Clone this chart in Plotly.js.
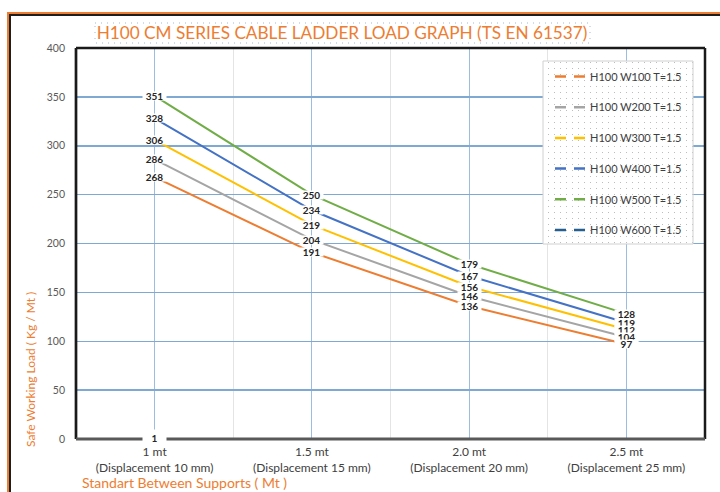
<!DOCTYPE html>
<html><head><meta charset="utf-8">
<script src="https://cdn.plot.ly/plotly-3.0.1.min.js"></script>
<style>
html,body{margin:0;padding:0;background:#fff;}
#chart{position:absolute;left:0;top:0;width:720px;height:492px;}
.fr{position:absolute;pointer-events:none;}
</style></head><body>
<div id="chart"></div>
<div class="fr" style="left:7px;top:12px;width:713px;height:2px;background:#ED7D31"></div>
<div class="fr" style="left:7px;top:12px;width:2px;height:480px;background:#ED7D31"></div>
<div class="fr" style="left:9px;top:14px;width:711px;height:2px;background:#1e1e1e"></div>
<div class="fr" style="left:9px;top:14px;width:2px;height:478px;background:#1e1e1e"></div>
<script>
// ---- data ----
const categories = ['1 mt', '1.5 mt', '2.0 mt', '2.5 mt'];
const displacements = ['(Displacement 10 mm)', '(Displacement 15 mm)', '(Displacement 20 mm)', '(Displacement 25 mm)'];
const seriesNames = ['H100 W100 T=1.5', 'H100 W200 T=1.5', 'H100 W300 T=1.5', 'H100 W400 T=1.5', 'H100 W500 T=1.5', 'H100 W600 T=1.5'];
const w100 = [268, 191, 136, 97];
const w200 = [286, 204, 146, 104];
const w300 = [306, 219, 156, 112];
const w400 = [328, 234, 167, 119];
const w500 = [351, 250, 179, 128];
const w600 = [1, null, null, null];
const yTickVals = [0, 50, 100, 150, 200, 250, 300, 350, 400];
const titleText = 'H100 CM SERIES CABLE LADDER LOAD GRAPH (TS EN 61537)';
const yTitle = 'Safe Working Load ( Kg / Mt )';
const xTitle = 'Standart Between Supports ( Mt )';

// ---- style ----
const colors = ['#ED7D31', '#A5A5A5', '#FFC000', '#4472C4', '#70AD47', '#255E91'];
const allSeries = [w100, w200, w300, w400, w500, w600];
const FONT = 'Lato, "Open Sans", sans-serif';

// plot area in pixels
const L = 76, R = 705, T = 48, B = 439;
const PW = R - L, PH = B - T;
const px2x = p => (p - L) / PW;
const px2y = p => (B - p) / PH;

const xIdx = categories.map((c, i) => i);

const traces = [];
allSeries.forEach((s, k) => {
  traces.push({
    type: 'scatter', mode: 'lines', x: xIdx, y: s, name: seriesNames[k],
    line: {color: colors[k], width: 2}, showlegend: false, hoverinfo: 'skip'
  });
});
// legend-only entries (dashed legend symbols)
allSeries.forEach((s, k) => {
  traces.push({
    type: 'scatter', mode: 'lines', x: [null], y: [null], name: seriesNames[k],
    legendgroup: 'g' + k,
    line: {color: colors[k], width: 2.5, dash: '11px,8px'}, showlegend: true
  });
});

const annotations = [];
// W600 first, W100 last
for (let k = allSeries.length - 1; k >= 0; k--) {
  allSeries[k].forEach((v, i) => {
    if (v === null) return;
    const txt = String(v);
    annotations.push({
      x: i, y: v, xref: 'x', yref: 'y', text: '<b>' + txt + '</b>', showarrow: false,
      bgcolor: '#ffffff', borderpad: 0, width: 23, height: txt.length < 2 ? 16 : 8,
      yshift: 0, font: {family: FONT, size: 10, color: '#262626'}
    });
  });
}
annotations.push({
  xref: 'paper', yref: 'paper', x: px2x(30), y: px2y(370), text: yTitle, textangle: -90,
  showarrow: false, xanchor: 'center', yanchor: 'middle',
  font: {family: FONT, size: 12, color: '#ED7D31'}
});
annotations.push({
  xref: 'paper', yref: 'paper', x: px2x(80), y: px2y(482), text: xTitle,
  showarrow: false, xanchor: 'left', yanchor: 'middle',
  font: {family: FONT, size: 14, color: '#ED7D31'}
});

const shapes = [
  // title dotted box
  {type: 'rect', xref: 'paper', yref: 'paper', x0: px2x(95), x1: px2x(590), y0: px2y(23), y1: px2y(43),
   line: {color: '#9DB9D8', width: 1, dash: '1px,5px'}, fillcolor: 'rgba(0,0,0,0)', layer: 'above'},
  // legend box
  {type: 'rect', xref: 'paper', yref: 'paper', x0: px2x(543), x1: px2x(693), y0: px2y(61), y1: px2y(244),
   line: {color: '#D0D0D0', width: 1}, fillcolor: '#ffffff', layer: 'above'},
  // plot borders
  {type: 'line', xref: 'paper', yref: 'paper', x0: 0, x1: 1, y0: 1, y1: 1, line: {color: '#1a1a1a', width: 2.5}, layer: 'above'},
  {type: 'line', xref: 'paper', yref: 'paper', x0: 0, x1: 0, y0: 0, y1: 1, line: {color: '#1a1a1a', width: 2.7}, layer: 'above'},
  {type: 'line', xref: 'paper', yref: 'paper', x0: 1, x1: 1, y0: 0, y1: 1, line: {color: '#1a1a1a', width: 2.5}, layer: 'above'},
  {type: 'line', xref: 'paper', yref: 'paper', x0: 0, x1: 1, y0: 0, y1: 0, line: {color: '#595959', width: 3}, layer: 'above'}
];

const layout = {
  width: 720, height: 492,
  margin: {l: L, r: 720 - R, t: T, b: 492 - B, pad: 0},
  paper_bgcolor: '#ffffff', plot_bgcolor: '#ffffff',
  title: {text: titleText, xref: 'container', yref: 'container', x: 342 / 720, xanchor: 'center',
          y: 1 - 33 / 492, yanchor: 'middle', font: {family: FONT, size: 17.2, color: '#ED7D31'}},
  xaxis: {
    range: [-0.5, 3.5], tickmode: 'array', tickvals: xIdx,
    ticktext: categories.map((c, i) => c + '<br>' + displacements[i]),
    showgrid: true, gridcolor: '#9BBDE0', gridwidth: 1, zeroline: false, showline: false,
    ticks: '', ticklabelstandoff: 4,
    tickfont: {family: FONT, size: 12, color: '#404040'},
    minor: {tickmode: 'array', tickvals: [0.5, 1.5, 2.5], showgrid: true, gridcolor: '#E4E4E4', gridwidth: 1, ticks: ''}
  },
  yaxis: {
    range: [0, 400], tickmode: 'array', tickvals: yTickVals,
    showgrid: true, gridcolor: '#7FA8D3', gridwidth: 1.5, zeroline: false, showline: false,
    ticks: '', ticklabelstandoff: 10,
    tickfont: {family: FONT, size: 10.5, color: '#595959'}
  },
  legend: {
    x: px2x(550), y: px2y(62), xanchor: 'left', yanchor: 'top',
    bgcolor: 'rgba(0,0,0,0)', borderwidth: 0, traceorder: 'grouped', tracegroupgap: 11.7,
    font: {family: FONT, size: 11, color: '#404040'}
  },
  showlegend: true,
  shapes: shapes, annotations: annotations
};

Plotly.newPlot('chart', traces, layout, {displayModeBar: false, staticPlot: true}).then(gd => {
  // dotted fill for legend box
  const svg = gd.querySelector('svg.main-svg');
  const ns = 'http://www.w3.org/2000/svg';
  let defs = svg.querySelector('defs');
  if (!defs) { defs = document.createElementNS(ns, 'defs'); svg.insertBefore(defs, svg.firstChild); }
  const pat = document.createElementNS(ns, 'pattern');
  pat.setAttribute('id', 'legdots'); pat.setAttribute('patternUnits', 'userSpaceOnUse');
  pat.setAttribute('width', '6'); pat.setAttribute('height', '6');
  const bg = document.createElementNS(ns, 'rect');
  bg.setAttribute('width', '6'); bg.setAttribute('height', '6'); bg.setAttribute('fill', '#ffffff');
  const dot = document.createElementNS(ns, 'rect');
  dot.setAttribute('x', '2'); dot.setAttribute('y', '2'); dot.setAttribute('width', '1'); dot.setAttribute('height', '1');
  dot.setAttribute('fill', '#BDBDBD');
  pat.appendChild(bg); pat.appendChild(dot); defs.appendChild(pat);
  const p = gd.querySelector('.shapelayer path[data-index="1"]');
  if (p) { p.style.fill = 'url(#legdots)'; p.style.fillOpacity = 1; }
});
</script>
</body></html>
